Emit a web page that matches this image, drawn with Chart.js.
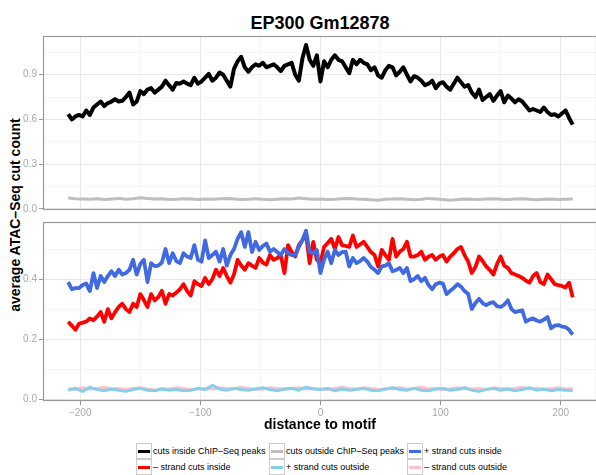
<!DOCTYPE html>
<html><head><meta charset="utf-8">
<script src="https://cdn.jsdelivr.net/npm/chart.js@4/dist/chart.umd.min.js"></script>
<style>
html,body{margin:0;padding:0;background:#fff;}
#wrap{position:relative;width:596px;height:475px;overflow:hidden;font-family:"Liberation Sans",Arial,Helvetica,sans-serif;color:#000;}
#title{position:absolute;left:0;width:640px;top:13px;text-align:center;font-weight:bold;font-size:18px;line-height:20px;white-space:nowrap;}
#ytitle{position:absolute;left:-135px;width:300px;top:207px;line-height:16px;text-align:center;font-weight:bold;font-size:14px;transform:rotate(-90deg);white-space:nowrap;}
#xtitle{position:absolute;left:0;width:640px;top:416px;line-height:16px;text-align:center;font-weight:bold;font-size:14px;white-space:nowrap;}
canvas{position:absolute;left:0;}
#c1{top:28px;}
#c2{top:214px;}
.key{position:absolute;width:14px;height:14px;border:1px solid #cccccc;background:#fff;}
.key span{position:absolute;left:1px;width:12px;top:5.5px;height:3px;}
.ltxt{position:absolute;font-size:9px;line-height:16px;white-space:nowrap;}
</style>
</head><body>
<div id="wrap">
<div id="title">EP300 Gm12878</div>
<div id="ytitle">average ATAC–Seq cut count</div>
<canvas id="c1" width="596" height="190"></canvas>
<canvas id="c2" width="596" height="207"></canvas>
<div id="xtitle">distance to motif</div>
<div id="legend"></div>
</div>
<script>
// x positions (distance to motif)
const positions = [-210,-207,-204,-201,-198,-195,-192,-189,-186,-183,-180,-177,-174,-171,-168,-165,-162,-159,-156,-153,-150,-147,-144,-141,-138,-135,-132,-129,-126,-123,-120,-117,-114,-111,-108,-105,-102,-99,-96,-93,-90,-87,-84,-81,-78,-75,-72,-69,-66,-63,-60,-57,-54,-51,-48,-45,-42,-39,-36,-33,-30,-27,-24,-21,-18,-15,-12,-9,-6,-3,0,3,6,9,12,15,18,21,24,27,30,33,36,39,42,45,48,51,54,57,60,63,66,69,72,75,78,81,84,87,90,93,96,99,102,105,108,111,114,117,120,123,126,129,132,135,138,141,144,147,150,153,156,159,162,165,168,171,174,177,180,183,186,189,192,195,198,201,204,207,210];
const positionsCoarse = [-210,-204,-198,-192,-186,-180,-174,-168,-162,-156,-150,-144,-138,-132,-126,-120,-114,-108,-102,-96,-90,-84,-78,-72,-66,-60,-54,-48,-42,-36,-30,-24,-18,-12,-6,0,6,12,18,24,30,36,42,48,54,60,66,72,78,84,90,96,102,108,114,120,126,132,138,144,150,156,162,168,174,180,186,192,198,204,210];

// top panel series
const cutsInside = [0.635,0.60,0.62,0.63,0.62,0.66,0.63,0.68,0.70,0.72,
0.69,0.71,0.72,0.735,0.72,0.725,0.75,0.78,0.70,0.72,
0.79,0.77,0.80,0.81,0.78,0.80,0.82,0.86,0.83,0.80,
0.845,0.84,0.855,0.84,0.83,0.88,0.84,0.855,0.88,0.905,
0.86,0.88,0.915,0.90,0.86,0.82,0.94,0.99,1.02,0.95,
0.92,0.95,0.97,0.96,0.98,0.95,0.96,0.97,0.95,0.925,
0.96,0.97,0.98,0.90,0.86,1.01,1.10,1.00,0.96,1.03,
0.855,0.99,0.95,1.0,1.03,1.00,0.99,0.95,0.91,1.0,
0.97,1.0,0.98,0.97,0.93,0.95,0.895,0.88,0.93,0.96,
0.95,0.895,0.92,0.95,0.90,0.855,0.89,0.88,0.86,0.83,
0.84,0.86,0.81,0.84,0.85,0.82,0.80,0.84,0.88,0.85,
0.82,0.83,0.78,0.75,0.80,0.73,0.75,0.77,0.725,0.76,
0.79,0.715,0.76,0.74,0.715,0.735,0.72,0.69,0.66,0.67,
0.66,0.65,0.68,0.65,0.63,0.635,0.62,0.64,0.66,0.61,
0.565];
const cutsOutside = [0.072,0.068,0.066,0.064,0.068,0.062,0.066,0.070,0.064,0.068,
0.074,0.070,0.066,0.068,0.062,0.064,0.068,0.066,0.062,0.066,
0.064,0.068,0.070,0.066,0.062,0.064,0.068,0.064,0.060,0.064,
0.068,0.066,0.072,0.068,0.064,0.066,0.062,0.064,0.068,0.070,
0.066,0.064,0.060,0.058,0.064,0.066,0.068,0.064,0.060,0.064,
0.070,0.066,0.062,0.058,0.062,0.066,0.064,0.062,0.066,0.068,
0.064,0.062,0.066,0.068,0.064,0.060,0.064,0.066,0.062,0.064,
0.066];

// bottom panel series
const plusInside = [0.39,0.366,0.37,0.37,0.38,0.385,0.36,0.42,0.37,0.41,
0.39,0.41,0.426,0.41,0.431,0.415,0.42,0.431,0.464,0.415,
0.45,0.464,0.39,0.453,0.443,0.445,0.455,0.50,0.453,0.486,
0.46,0.453,0.486,0.475,0.47,0.513,0.464,0.458,0.529,0.47,
0.48,0.491,0.458,0.50,0.445,0.48,0.50,0.534,0.556,0.507,
0.556,0.49,0.524,0.497,0.51,0.518,0.491,0.50,0.49,0.48,
0.50,0.486,0.48,0.48,0.507,0.53,0.561,0.49,0.486,0.497,
0.42,0.464,0.491,0.453,0.497,0.48,0.49,0.491,0.442,0.47,
0.453,0.46,0.47,0.458,0.44,0.431,0.42,0.442,0.445,0.453,
0.426,0.43,0.437,0.42,0.437,0.393,0.40,0.41,0.393,0.404,
0.38,0.366,0.383,0.388,0.385,0.35,0.361,0.37,0.383,0.375,
0.36,0.35,0.30,0.32,0.334,0.32,0.313,0.32,0.323,0.31,
0.307,0.315,0.329,0.30,0.29,0.293,0.296,0.258,0.265,0.269,
0.262,0.258,0.265,0.274,0.236,0.245,0.247,0.242,0.24,0.231,
0.215];
const minusInside = [0.258,0.245,0.231,0.251,0.255,0.258,0.269,0.263,0.275,0.29,
0.258,0.30,0.269,0.29,0.307,0.318,0.30,0.29,0.318,0.307,
0.35,0.33,0.307,0.35,0.329,0.34,0.361,0.318,0.35,0.345,
0.355,0.366,0.383,0.36,0.345,0.393,0.383,0.377,0.404,0.383,
0.40,0.431,0.41,0.437,0.41,0.388,0.415,0.464,0.445,0.431,
0.453,0.445,0.437,0.47,0.455,0.448,0.48,0.464,0.47,0.48,
0.42,0.513,0.49,0.475,0.513,0.53,0.55,0.453,0.524,0.464,
0.453,0.507,0.52,0.534,0.50,0.54,0.513,0.51,0.507,0.545,
0.507,0.515,0.524,0.507,0.49,0.48,0.442,0.497,0.48,0.464,
0.534,0.475,0.491,0.50,0.524,0.475,0.475,0.48,0.491,0.464,
0.475,0.48,0.464,0.475,0.48,0.458,0.475,0.486,0.50,0.507,
0.48,0.458,0.42,0.44,0.475,0.46,0.442,0.43,0.415,0.45,
0.475,0.445,0.437,0.42,0.415,0.41,0.404,0.395,0.388,0.41,
0.42,0.39,0.383,0.415,0.40,0.383,0.38,0.377,0.372,0.388,
0.339];
const plusOutside = [0.030,0.036,0.026,0.040,0.032,0.028,0.034,0.030,0.026,0.032,
0.036,0.030,0.028,0.034,0.030,0.032,0.028,0.030,0.036,0.032,
0.046,0.034,0.030,0.036,0.032,0.030,0.034,0.038,0.032,0.028,
0.034,0.036,0.030,0.040,0.034,0.032,0.036,0.028,0.034,0.030,
0.032,0.036,0.030,0.028,0.034,0.038,0.032,0.030,0.036,0.030,
0.028,0.034,0.036,0.030,0.032,0.038,0.030,0.026,0.032,0.036,
0.030,0.034,0.028,0.032,0.038,0.030,0.034,0.028,0.032,0.030,
0.028];
const minusOutside = [0.036,0.032,0.038,0.034,0.036,0.040,0.034,0.036,0.032,0.036,
0.038,0.034,0.030,0.036,0.034,0.038,0.036,0.032,0.034,0.036,
0.034,0.038,0.036,0.034,0.040,0.036,0.032,0.034,0.038,0.036,
0.034,0.036,0.038,0.034,0.036,0.034,0.032,0.036,0.040,0.036,
0.034,0.038,0.036,0.032,0.034,0.036,0.038,0.034,0.036,0.040,
0.034,0.036,0.032,0.034,0.038,0.036,0.034,0.036,0.032,0.038,
0.036,0.034,0.036,0.040,0.034,0.036,0.032,0.036,0.038,0.034,
0.036];

// ticks
const xMajorTicks = [-200,-100,0,100,200];
const xMinorTicks = [-150,-50,50,150];
const topMajorTicks = [0,0.3,0.6,0.9];
const topMinorTicks = [0.15,0.45,0.75,1.05];
const bottomMajorTicks = [0,0.2,0.4];
const bottomMinorTicks = [0.1,0.3,0.5];

// legend
const legendLabels = ['cuts inside ChIP–Seq peaks','– strand cuts inside','cuts outside ChIP–Seq peaks','+ strand cuts outside','+ strand cuts inside','– strand cuts outside'];
const legendColors = ['#000000','#FF0000','#BEBEBE','#87CEEB','#4169E1','#FFC0CB'];

const pts = (xs, ys) => xs.map((x, i) => ({x: x, y: ys[i]}));
const isIn = (arr, v) => arr.some(a => Math.abs(a - v) < 1e-9);
const TICK_COL = '#a8a8a8';
const FONT = '"Liberation Sans", Arial, Helvetica, sans-serif';

const framePlugin = {
  id: 'frame',
  afterDraw(chart) {
    const a = chart.chartArea, c = chart.ctx;
    c.save();
    c.strokeStyle = '#9a9a9a';
    c.lineWidth = 1.2;
    c.strokeRect(a.left + 0.5, a.top + 0.5, a.right - a.left, a.bottom - a.top - 1);
    c.restore();
  }
};

function xScale(showLabels) {
  const all = xMajorTicks.concat(xMinorTicks).sort((a, b) => a - b);
  return {
    type: 'linear', min: -231, max: 229.4,
    afterBuildTicks: s => { s.ticks = all.map(v => ({value: v})); },
    afterFit: s => { s.height = showLabels ? 20 : 0; },
    border: {display: false},
    grid: {
      color: ctx => isIn(xMajorTicks, ctx.tick.value) ? '#e8e8e8' : '#f5f5f5',
      lineWidth: 1,
      drawTicks: showLabels,
      tickLength: 4,
      tickColor: ctx => isIn(xMajorTicks, ctx.tick.value) ? '#9a9a9a' : 'rgba(0,0,0,0)'
    },
    ticks: {
      display: showLabels, autoSkip: false, maxRotation: 0, padding: 2,
      color: TICK_COL, font: {family: FONT, size: 10},
      callback: v => isIn(xMajorTicks, v) ? (v < 0 ? '−' + Math.abs(v) : String(v)) : ''
    }
  };
}
function yScale(min, max, majors, minors) {
  const all = majors.concat(minors).sort((a, b) => a - b);
  return {
    type: 'linear', min: min, max: max,
    afterBuildTicks: s => { s.ticks = all.map(v => ({value: v})); },
    afterFit: s => { s.width = 43; },
    border: {display: false},
    grid: {
      color: ctx => isIn(majors, ctx.tick.value) ? '#e8e8e8' : '#f5f5f5',
      lineWidth: 1, tickLength: 4,
      tickColor: ctx => isIn(majors, ctx.tick.value) ? '#9a9a9a' : 'rgba(0,0,0,0)'
    },
    ticks: {
      autoSkip: false, padding: 2, color: TICK_COL, font: {family: FONT, size: 10},
      callback: v => isIn(majors, v) ? v.toFixed(1) : ''
    }
  };
}
const ds = (data, color, w) => ({data: data, borderColor: color, borderWidth: w, pointRadius: 0, tension: 0, fill: false, borderJoinStyle: 'round', borderCapStyle: 'butt'});
const common = {
  responsive: false, animation: false, devicePixelRatio: 1,
  plugins: {legend: {display: false}, tooltip: {enabled: false}},
  events: []
};

new Chart(document.getElementById('c1'), {
  type: 'line',
  data: {datasets: [
    ds(pts(positionsCoarse, cutsOutside), legendColors[2], 3),
    ds(pts(positions, cutsInside), legendColors[0], 4)
  ]},
  options: Object.assign({}, common, {
    layout: {padding: {top: 4, bottom: 3, left: 0, right: 0}},
    scales: {x: xScale(false), y: yScale(-0.008, 1.16, topMajorTicks, topMinorTicks)}
  }),
  plugins: [framePlugin]
});

new Chart(document.getElementById('c2'), {
  type: 'line',
  data: {datasets: [
    ds(pts(positionsCoarse, plusOutside), legendColors[3], 3),
    ds(pts(positionsCoarse, minusOutside), legendColors[5], 3),
    ds(pts(positions, plusInside), legendColors[4], 3.8),
    ds(pts(positions, minusInside), legendColors[1], 3.8)
  ]},
  options: Object.assign({}, common, {
    layout: {padding: {top: 4, bottom: 0, left: 0, right: 0}},
    scales: {x: xScale(true), y: yScale(-0.006, 0.59, bottomMajorTicks, bottomMinorTicks)}
  }),
  plugins: [framePlugin]
});

// legend (3 columns x 2 rows, column-major)
const colLeft = [136, 269, 407];
const rowTop = [443, 459];
const leg = document.getElementById('legend');
legendLabels.forEach((lab, i) => {
  const col = Math.floor(i / 2), row = i % 2;
  const k = document.createElement('div');
  k.className = 'key';
  k.style.left = colLeft[col] + 'px';
  k.style.top = rowTop[row] + 'px';
  const s = document.createElement('span');
  s.style.background = legendColors[i];
  k.appendChild(s);
  leg.appendChild(k);
  const t = document.createElement('div');
  t.className = 'ltxt';
  t.style.left = (colLeft[col] + 17) + 'px';
  t.style.top = rowTop[row] + 'px';
  t.textContent = lab;
  leg.appendChild(t);
});
</script>
</body></html>
